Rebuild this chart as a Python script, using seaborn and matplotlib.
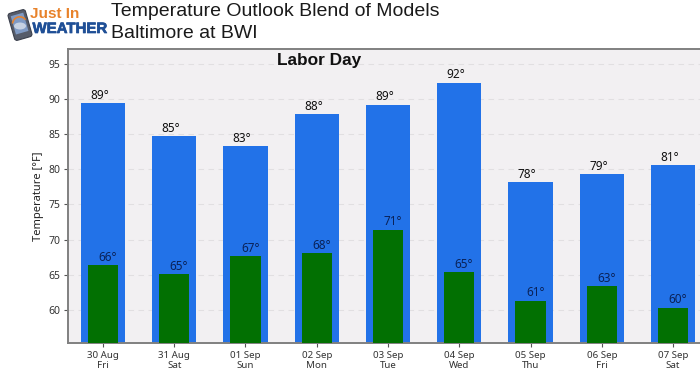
import matplotlib
matplotlib.use("Agg")
import matplotlib.pyplot as plt
import matplotlib.patheffects as pe
from matplotlib.patches import FancyBboxPatch, Ellipse, Rectangle, Wedge
from matplotlib.transforms import Affine2D
import pandas as pd
import seaborn as sns

days = ["30 Aug\nFri", "31 Aug\nSat", "01 Sep\nSun", "02 Sep\nMon", "03 Sep\nTue",
        "04 Sep\nWed", "05 Sep\nThu", "06 Sep\nFri", "07 Sep\nSat"]
highs = [89.4, 84.7, 83.3, 87.8, 89.2, 92.3, 78.2, 79.3, 80.6]
lows = [66.4, 65.1, 67.6, 68.1, 71.4, 65.4, 61.3, 63.4, 60.3]
high_labels = [89, 85, 83, 88, 89, 92, 78, 79, 81]
low_labels = [66, 65, 67, 68, 71, 65, 61, 63, 60]
y_ticks = [60, 65, 70, 75, 80, 85, 90, 95]

W, H = 700, 374
sns.set_theme(style="white")
plt.rcParams["font.family"] = ["Noto Sans", "DejaVu Sans"]

df = pd.DataFrame({"day": days, "high": highs, "low": lows})

fig = plt.figure(figsize=(W / 100, H / 100), dpi=100, facecolor="white")
ax = fig.add_axes([68 / W, 1 - 343 / H, (W - 68 + 3) / W, (343 - 49) / H])
ax.set_facecolor("#f2f0f2")

sns.barplot(data=df, x="day", y="high", color="#2272e8", width=0.62, saturation=1,
            edgecolor="#2272e8", linewidth=0, ax=ax, zorder=2)
sns.barplot(data=df, x="day", y="low", color="#027002", width=0.425, saturation=1,
            edgecolor="#027002", linewidth=0, ax=ax, zorder=3)

ax.set_xlim(-0.49, 8.42)
ax.set_ylim(55.3, 97.1)
ax.set_yticks(y_ticks)
ax.set_xlabel("")
ax.set_ylabel("Temperature [°F]", fontsize=8, color="#222222", labelpad=3)
ax.tick_params(axis="x", length=3, width=0.8, color="#555555", labelcolor="#333333",
               labelsize=7, bottom=True, pad=2.5)
ax.tick_params(axis="y", length=3, width=0.8, color="#555555", labelcolor="#333333",
               labelsize=7.5, left=True, pad=2.5)
ax.grid(axis="y", color="#e1dfe1", linestyle=(0, (5, 4)), linewidth=0.8, zorder=1)
ax.set_axisbelow(True)
for name, spine in ax.spines.items():
    spine.set_color("#808080")
    spine.set_linewidth(1.4)
    spine.set_visible(name != "right")

for i, (h, l, hl, ll) in enumerate(zip(highs, lows, high_labels, low_labels)):
    ax.annotate(f"{hl}°", (i, h), xytext=(-2.5, 1), textcoords="offset points", ha="center", va="bottom",
                fontsize=8.5, color="#111111", zorder=5)
    ax.annotate(f"{ll}°", (i, l), xytext=(3.5, 1), textcoords="offset points", ha="center", va="bottom",
                fontsize=8.5, color="#0a2258", zorder=5)

fig.text(319 / W, 1 - 60 / H, "Labor Day", ha="center", va="center", fontsize=12.4, fontweight="bold",
         family="Liberation Sans", color="#111111")

# heading
fig.text(111 / W, 1 - 11 / H, "Temperature Outlook Blend of Models", ha="left", va="center",
         fontsize=14, family="Liberation Sans", color="#1a1a1a")
fig.text(111 / W, 1 - 33 / H, "Baltimore at BWI", ha="left", va="center",
         fontsize=14, family="Liberation Sans", color="#1a1a1a")

# logo, drawn in pixel coordinates
logo = fig.add_axes([0, 1 - 46 / H, 115 / W, 46 / H])
logo.set_xlim(0, 115)
logo.set_ylim(46, 0)
logo.axis("off")
tilt = Affine2D().rotate_deg_around(20, 25, -16) + logo.transData
phone = FancyBboxPatch((12, 12), 16, 26, boxstyle="round,pad=1,rounding_size=2.5", facecolor="#565c6a",
                       edgecolor="#3a3f4b", linewidth=0.8)
phone.set_transform(tilt)
logo.add_patch(phone)
screen = Rectangle((13.5, 14), 13, 19, facecolor="#7f9ac4", edgecolor="none")
screen.set_transform(tilt)
logo.add_patch(screen)
arc = Wedge((20, 24), 8, 200, 340, width=1.6, facecolor="#e8822a", edgecolor="none")
arc.set_transform(tilt)
logo.add_patch(arc)
logo.add_patch(Ellipse((20, 26), 12, 7, facecolor="#c6d1e2", edgecolor="none"))
logo.text(30, 14, "Just In", fontsize=11, fontweight="bold", family="Liberation Sans", color="#e8822a",
          ha="left", va="center")
logo.text(32.5, 29, "WEATHER", fontsize=10.8, fontweight="bold", family="Liberation Sans", color="#1f4f96",
          ha="left", va="center", path_effects=[pe.withStroke(linewidth=0.5, foreground="#1f4f96")])

fig.savefig("out.png", dpi=100)
plt.close(fig)
